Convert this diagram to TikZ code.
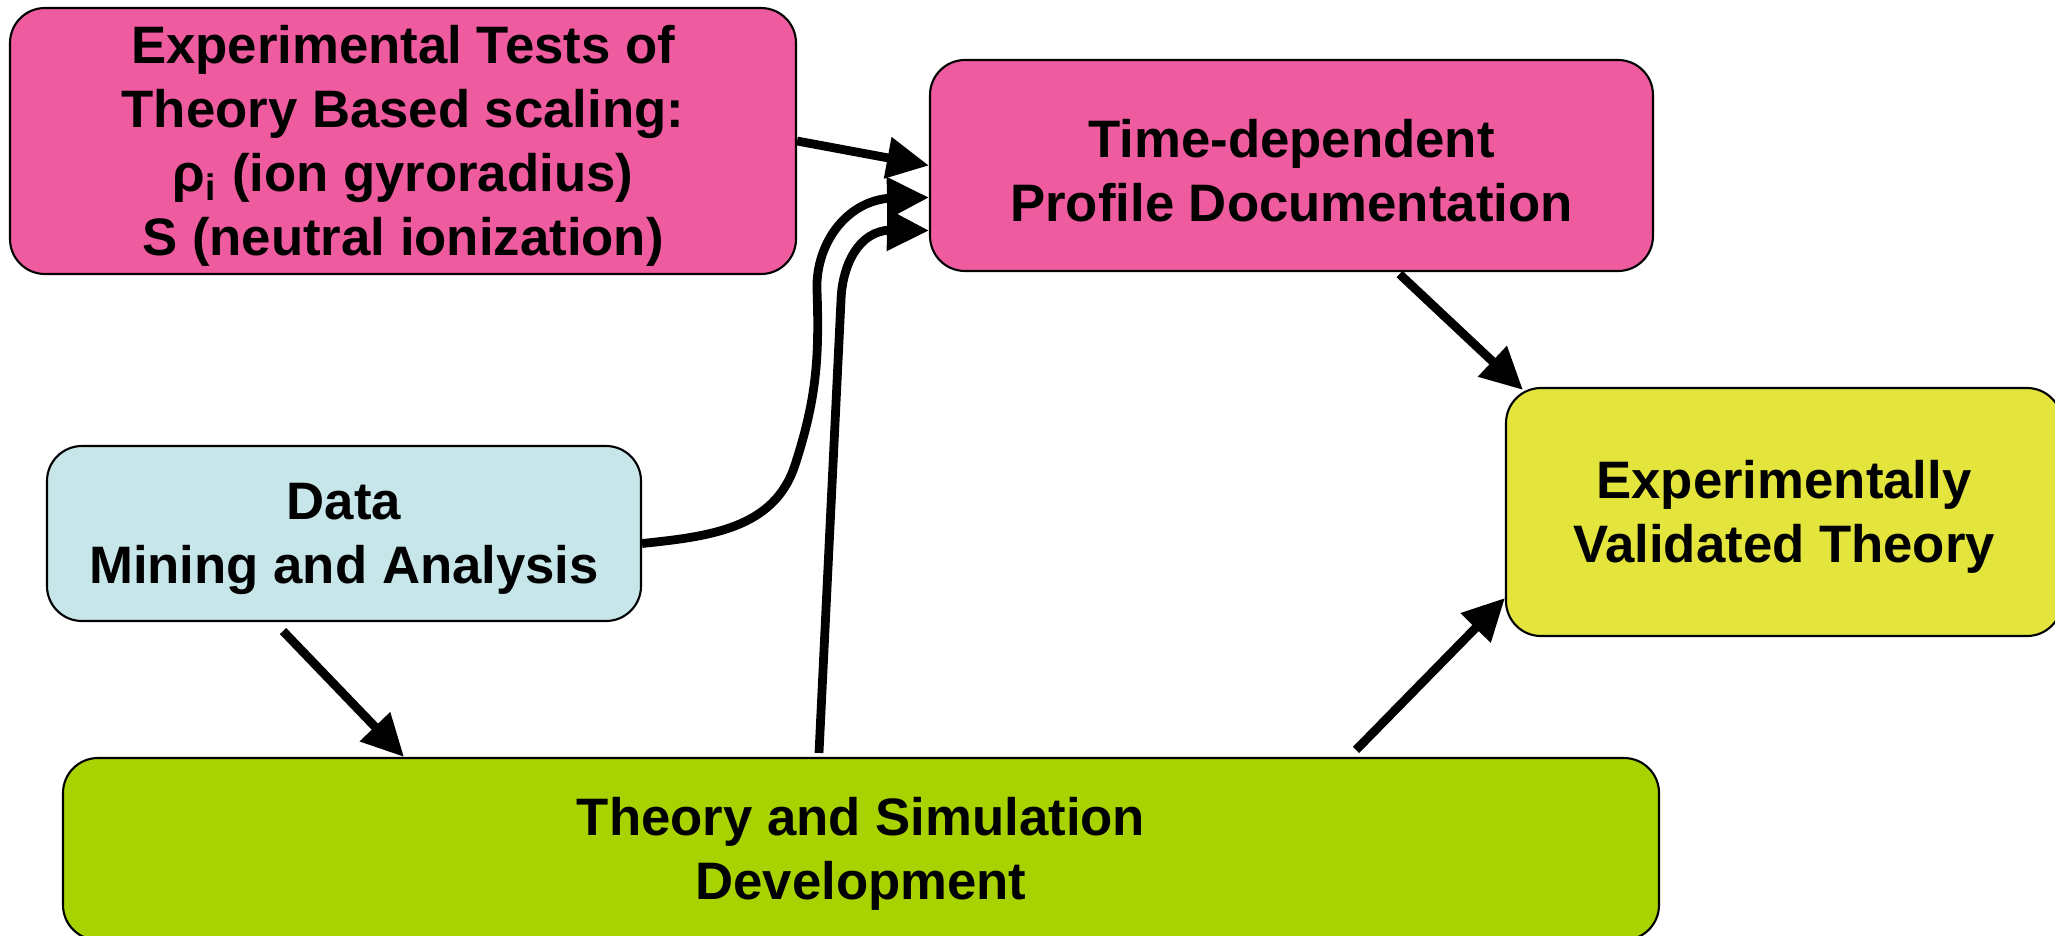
\documentclass[tikz,border=0pt]{standalone}
\usepackage{fontspec}
\setmainfont{Liberation Sans}
\usetikzlibrary{arrows.meta}

\definecolor{boxpink}{RGB}{238,91,158}
\definecolor{boxblue}{RGB}{198,230,234}
\definecolor{boxgreen}{RGB}{168,211,0}
\definecolor{boxyellow}{RGB}{227,228,60}
\newcommand{\boxstrut}{\rule{0pt}{4.8mm}}

\begin{document}
\begin{tikzpicture}[box/.style={draw=black, line width=0.6pt, rounded corners=3.5mm, align=center, inner sep=0pt, font=\fontsize{15}{18.2}\selectfont\bfseries},
  flow/.style={line width=2.5pt, -{Triangle[length=4.2mm,width=4mm]}}]
	\useasboundingbox (0,0) rectangle (20.55,-9.35);
	% boxes
	\node[box, fill=boxpink, minimum width=7.86cm, minimum height=2.66cm] (tests) at (4.03,-1.41) {\boxstrut Experimental Tests of\\Theory Based scaling:\\ρ\textsubscript{i} (ion gyroradius)\\S (neutral ionization)};
	\node[box, fill=boxpink, minimum width=7.23cm, minimum height=2.11cm] (profile) at (12.915,-1.655) {\boxstrut Time-dependent\\Profile Documentation};
	\node[box, fill=boxblue, minimum width=5.94cm, minimum height=1.75cm] (mining) at (3.44,-5.335) {\boxstrut Data\\Mining and Analysis};
	\node[box, fill=boxgreen, minimum width=15.96cm, minimum height=1.82cm] (theory) at (8.61,-8.49) {\boxstrut Theory and Simulation\\Development};
	\node[box, fill=boxyellow, minimum width=5.56cm, minimum height=2.48cm] (valid) at (17.84,-5.12) {\boxstrut Experimentally\\Validated Theory};
	% arrows
	\draw[flow] (tests.east) -- (profile.west);
	\draw[flow] ([yshift=-1mm]mining.east) to[out=6,in=-108] (7.95,-4.65) to[out=72,in=-88] (8.17,-2.9) to[out=92,in=180] (8.95,-1.98) -- ([yshift=-3.2mm]profile.west);
	\draw[flow] ([xshift=-4.2mm,yshift=0.4mm]theory.north) -- (8.41,-3.0) to[out=88,in=180] (8.92,-2.30) -- ([yshift=-6.5mm]profile.west);
	\draw[flow] ([xshift=10.8mm,yshift=-0.2mm]profile.south) -- ([shift={(1.8mm,-0.3mm)}]valid.north west);
	\draw[flow] ([xshift=-6.1mm,yshift=-0.9mm]mining.south) -- ([xshift=-45.7mm]theory.north);
	\draw[flow] ([xshift=49.5mm,yshift=0.7mm]theory.north) -- ([yshift=-8.6mm]valid.west);
\end{tikzpicture}
\end{document}
